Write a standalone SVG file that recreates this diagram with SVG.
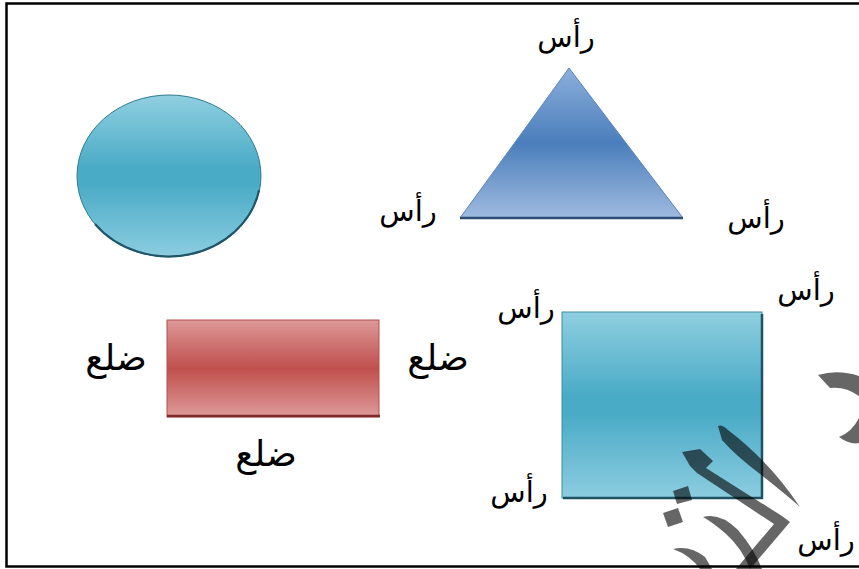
<svg xmlns="http://www.w3.org/2000/svg" width="859" height="569" viewBox="0 0 859 569">
<style>
.lbl{font-family:"DejaVu Sans","Noto Sans",sans-serif;font-size:29px;fill:#000;text-anchor:middle}
.side{font-size:36px}
.wm{fill:#000;fill-opacity:0.6}
</style>
<defs>
<linearGradient id="gCyan" x1="0" y1="0" x2="0" y2="1">
<stop offset="0" stop-color="#8fcfe0"/>
<stop offset="0.45" stop-color="#4aabc6"/>
<stop offset="0.55" stop-color="#4aabc6"/>
<stop offset="1" stop-color="#8ccde0"/>
</linearGradient>
<linearGradient id="gBlue" x1="0" y1="0" x2="0" y2="1">
<stop offset="0" stop-color="#8cafdc"/>
<stop offset="0.5" stop-color="#4a7ebb"/>
<stop offset="1" stop-color="#9fbbe0"/>
</linearGradient>
<linearGradient id="gRed" x1="0" y1="0" x2="0" y2="1">
<stop offset="0" stop-color="#dc9897"/>
<stop offset="0.5" stop-color="#c0504d"/>
<stop offset="1" stop-color="#dc9a99"/>
</linearGradient>
</defs>
<rect x="0" y="0" width="859" height="569" fill="#fff"/>
<rect x="6.5" y="3.5" width="870" height="563" fill="none" stroke="#000" stroke-width="2.5"/>

<g id="circle">
<ellipse cx="169" cy="176" rx="92" ry="81" fill="url(#gCyan)" stroke="#2f7a90" stroke-width="1"/>
<path d="M 95 224 A 92 81 0 0 0 259 190" fill="none" stroke="#1f5566" stroke-width="2"/>
</g>

<g id="triangle">
<polygon points="569,68 460,218 683,218" fill="url(#gBlue)" stroke="#5b83b8" stroke-width="1"/>
<line x1="460" y1="218" x2="683" y2="218" stroke="#2c4d75" stroke-width="2.5"/>
<text class="lbl" x="566" y="47">رأس</text>
<text class="lbl" x="408" y="221">رأس</text>
<text class="lbl" x="756" y="228">رأس</text>
</g>

<g id="rectangle">
<rect x="167" y="320" width="212" height="97" fill="url(#gRed)" stroke="#b2514f" stroke-width="1"/>
<line x1="167" y1="416" x2="380" y2="416" stroke="#7d2a28" stroke-width="2.5"/>
<text class="lbl side" x="116" y="370">ضلع</text>
<text class="lbl side" x="438" y="370">ضلع</text>
<text class="lbl side" x="266" y="466">ضلع</text>
</g>

<g id="square">
<rect x="562" y="312" width="200" height="186" fill="url(#gCyan)" stroke="#3d8ea5" stroke-width="1"/>
<path d="M 762 314 L 762 498 L 563 498" fill="none" stroke="#1d5262" stroke-width="2.5"/>
<text class="lbl" x="806" y="300">رأس</text>
<text class="lbl" x="526" y="318">رأس</text>
<text class="lbl" x="519" y="502">رأس</text>
<text class="lbl" x="826" y="550">رأس</text>
</g>

<g id="watermark">
<path class="wm" d="M 718 426 Q 722 424 728 430 Q 770 462 800 507 Q 790 498 760 474 Q 735 455 722 440 Z"/>
<path class="wm" d="M 682 452 L 700 449 L 713 461 L 706 468 L 782 516 L 790 522 L 750 569 L 736 569 L 774 524 L 697 473 L 690 466 Z"/>
<path class="wm" d="M 673 491 L 688 486 L 692 500 L 677 504 Z"/>
<path class="wm" d="M 663 513 L 678 508 L 683 522 L 668 527 Z"/>
<path class="wm" d="M 703 517 Q 720 512 738 530 Q 755 550 762 569 L 750 569 Q 742 548 725 533 Q 712 522 703 517 Z"/>
<path class="wm" d="M 673 549 Q 690 545 705 557 L 712 569 L 700 569 Q 690 555 673 549 Z"/>
<path class="wm" d="M 818 375 Q 838 369 859 376 L 859 396 Q 845 386 830 388 Z"/>
<path class="wm" d="M 839 437 Q 852 432 859 418 L 859 443 Q 850 445 839 437 Z"/>
</g>
</svg>
